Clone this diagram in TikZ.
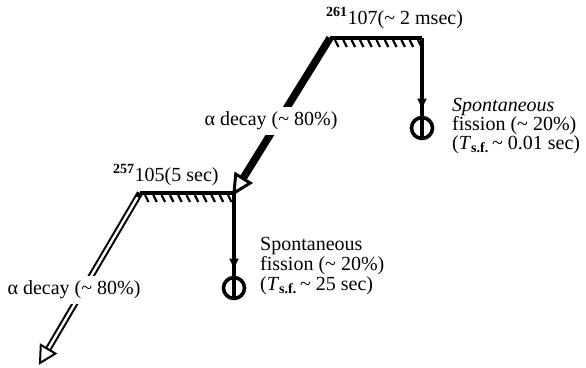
\documentclass[tikz,border=0pt]{standalone}
\usepackage{fontspec}
\setmainfont{Liberation Serif}
\usetikzlibrary{arrows.meta,calc}
\begin{document}
\begin{tikzpicture}[x=1pt,y=-1pt,
  lvl/.style={line width=3.6pt},
  hatch/.style={line width=2.2pt},
  fis/.style={line width=3.1pt},
  ring/.style={circle,draw,line width=3.6pt,minimum size=21pt,inner sep=0pt},
  txt/.style={anchor=base west,inner sep=0pt,font=\fontsize{20}{20}\selectfont},
  lab/.style={fill=white,inner xsep=2pt,inner ysep=5pt,font=\fontsize{20}{20}\selectfont},
  headopen/.style={fill=white,draw=black,line join=miter}
]
\useasboundingbox (0,0) rectangle (586,367);
\coordinate (A1) at (330,38);
\coordinate (B1) at (422,38);
\coordinate (A2) at (140,193);
\coordinate (B2) at (234,193);
\coordinate (T3) at (40,363);

% upper alpha decay arrow (heavy)
\coordinate (H1) at ($(B2)!17pt!(A1)$);
\draw[line width=7.5pt] (A1) -- ($(B2)!15pt!(A1)$);
\filldraw[headopen,line width=3pt] (B2) -- ($(H1)!8.5pt!90:(B2)$) -- ($(H1)!8.5pt!-90:(B2)$) -- cycle;

% lower alpha decay arrow (double)
\coordinate (H2) at ($(T3)!16pt!(A2)$);
\draw[line width=6.5pt] (A2) -- ($(T3)!14pt!(A2)$);
\draw[white,line width=2.4pt] ($(A2)!5pt!(T3)$) -- ($(T3)!13pt!(A2)$);
\filldraw[headopen,line width=2pt] (T3) -- ($(H2)!8.5pt!90:(T3)$) -- ($(H2)!8.5pt!-90:(T3)$) -- cycle;

% levels
\draw[lvl] (A1) -- (B1);
\draw[lvl] (A2) -- (B2);
\foreach \i in {0,...,10} {
  \draw[hatch] ($(A1)+(5+8.3*\i,2)$) -- ++(3.5,7);
  \draw[hatch] ($(A2)+(5+8.3*\i,2)$) -- ++(3.5,7);
}

% fission branches
\node[ring] (F1) at (422,128) {};
\draw[fis] (B1) -- (F1.south);
\draw[fis,-{Latex[length=12pt,width=10pt]}] (B1) -- ($(F1.north)+(0,-5)$);
\node[ring] (F2) at (234,288) {};
\draw[fis] (B2) -- (F2.south);
\draw[fis,-{Latex[length=12pt,width=10pt]}] (B2) -- ($(F2.north)+(0,-5)$);

% labels
\node[txt] (n1) at (326,24) {\textsuperscript{\bfseries 261}107(\textasciitilde{} 2 msec)};
\node[txt] (n2) at (113,181) {\textsuperscript{\bfseries 257}105(5 sec)};
\node[lab] (a1) at (271,121) {α decay (\textasciitilde{} 80\%)};
\node[lab] (a2) at (74,290) {α decay (\textasciitilde{} 80\%)};

\node[txt] (s1a) at (452,111) {\textit{Spontaneous}};
\node[txt] (s1b) at (452,130) {fission (\textasciitilde{} 20\%)};
\node[txt] (s1c) at (452,149) {(\textit{T}\textsubscript{\bfseries s.f.}\,\textasciitilde{} 0.01 sec)};

\node[txt] (s2a) at (260,250) {Spontaneous};
\node[txt] (s2b) at (260,270) {fission (\textasciitilde{} 20\%)};
\node[txt] (s2c) at (260,290) {(\textit{T}\textsubscript{\bfseries s.f.}\,\textasciitilde{} 25 sec)};
\end{tikzpicture}
\end{document}
